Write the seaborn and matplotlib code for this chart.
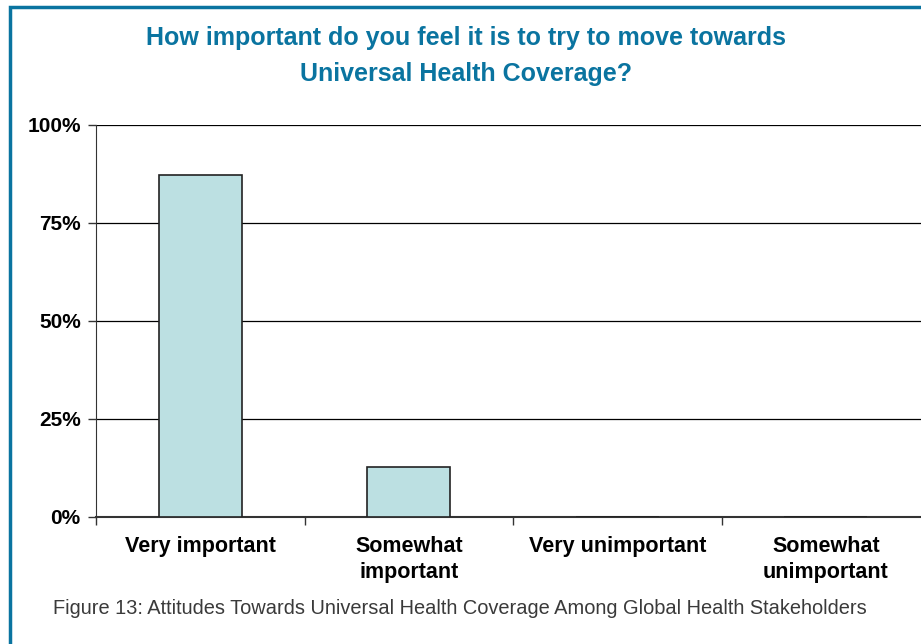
import numpy as np
import pandas as pd
import matplotlib
matplotlib.use('Agg')
import matplotlib.pyplot as plt
from matplotlib.patches import Rectangle
import seaborn as sns

categories = ['Very important', 'Somewhat\nimportant', 'Very unimportant', 'Somewhat\nunimportant']
shares = [87.2, 12.8, 0, 0]
ytick_vals = [0, 25, 50, 75, 100]
ytick_labels = ['0%', '25%', '50%', '75%', '100%']

df = pd.DataFrame({'answer': categories, 'share': shares})

sns.set_style('white')
plt.rcParams['font.family'] = ['Liberation Sans', 'DejaVu Sans']

fig = plt.figure(figsize=(9.21, 6.44), dpi=100)
ax = fig.add_axes([96/921, 1 - 517/644, 834/921, 392/644])

sns.barplot(data=df, x='answer', y='share', color='#bce0e2', edgecolor='#222222',
            linewidth=1.2, width=0.4, saturation=1, ax=ax, zorder=3)

ax.set_ylim(0, 100)
ax.set_xlim(-0.5, 3.5)
ax.set_yticks(ytick_vals)
ax.set_yticklabels(ytick_labels, fontsize=15, fontweight='bold', color='black')
ax.yaxis.grid(True, color='black', linewidth=0.9)
ax.set_axisbelow(True)
ax.tick_params(axis='y', length=6, width=1, color='#333333', direction='out', pad=5, left=True)

ax.set_xticks(range(len(categories)))
ax.set_xticklabels(categories, fontsize=15.5, fontweight='bold', color='black', linespacing=1.3)
ax.tick_params(axis='x', which='major', length=0, pad=14)
ax.set_xticks([-0.5, 0.5, 1.5, 2.5], minor=True)
ax.tick_params(axis='x', which='minor', length=6, width=1, color='#333333', bottom=True)

ax.set_xlabel('')
ax.set_ylabel('')
for s in ['top', 'right']:
    ax.spines[s].set_visible(False)
ax.spines['left'].set_color('#333333')
ax.spines['bottom'].set_color('#333333')
ax.spines['bottom'].set_linewidth(1.5)

fig.text(466/921, 1 - 56/644, 'How important do you feel it is to try to move towards\nUniversal Health Coverage?',
         ha='center', va='center', fontsize=18, fontweight='bold', color='#0a74a0',
         linespacing=1.6)
fig.text(53/921, 1 - 608/644,
         'Figure 13: Attitudes Towards Universal Health Coverage Among Global Health Stakeholders',
         ha='left', va='center', fontsize=14.4, color='#3a3a3a')

# frame around the figure
fig.patches.append(Rectangle((10/921, -0.05), 1.0, 1 - 7/644 + 0.05, transform=fig.transFigure,
                             fill=False, edgecolor='#0a74a0', linewidth=2.5))

fig.savefig('out.png', dpi=100)
